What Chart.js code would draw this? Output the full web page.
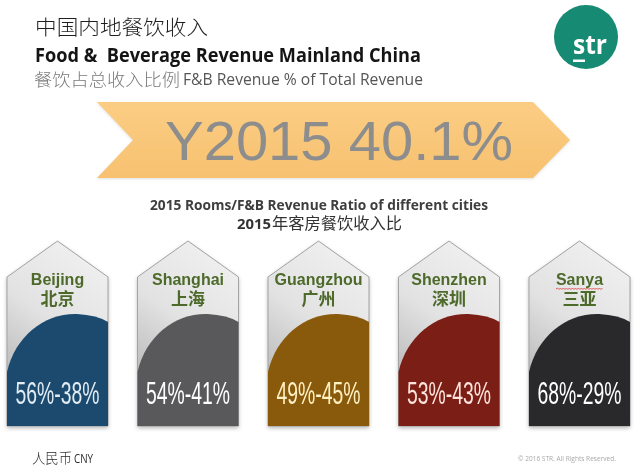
<!DOCTYPE html>
<html><head><meta charset="utf-8">
<script src="https://cdn.jsdelivr.net/npm/chart.js@4"></script>
<style>html,body{margin:0;padding:0;background:#fff;overflow:hidden}</style>
</head>
<body>
<canvas id="c" width="640" height="467" style="width:640px;height:467px;display:block"></canvas>
<script>
// ---- data ----
const cities = ['Beijing', 'Shanghai', 'Guangzhou', 'Shenzhen', 'Sanya'];
const citiesZh = ['北京', '上海', '广州', '深圳', '三亚'];
const roomsShare = [56, 54, 49, 53, 68];
const fbShare = [38, 41, 45, 43, 29];
const headlineYear = 2015;
const headlineShare = 40.1;

// ---- styles ----
const cardColors = ['#1b4a6e', '#59595b', '#8a5a0c', '#7b1f16', '#29292c'];
const pctColors = ['#e2ecf4', '#ffffff', '#fff1c4', '#fde4dc', '#ffffff'];

function fitText(ctx, text, x, y, font, w, align) {
  ctx.font = font;
  const m = ctx.measureText(text).width;
  const s = w / m;
  ctx.save();
  ctx.translate(x, y);
  ctx.scale(s, 1);
  ctx.textAlign = align || 'left';
  ctx.fillText(text, 0, 0);
  ctx.restore();
}

const infographic = {
  id: 'infographic',
  beforeDraw(chart) {
    const ctx = chart.ctx;
    ctx.save();
    ctx.fillStyle = '#ffffff';
    ctx.fillRect(0, 0, chart.width, chart.height);
    ctx.textBaseline = 'alphabetic';

    // titles
    ctx.fillStyle = '#1e1e1e';
    fitText(ctx, '中国内地餐饮收入', 35, 35, '300 20px "Noto Sans CJK SC"', 173);
    ctx.fillStyle = '#141414';
    fitText(ctx, 'Food &  Beverage Revenue Mainland China', 35, 62, 'bold 20px "Open Sans"', 386);
    ctx.fillStyle = '#7a7a7a';
    fitText(ctx, '餐饮占总收入比例', 34, 86, '300 17px "Noto Sans CJK SC"', 146);
    ctx.fillStyle = '#555555';
    fitText(ctx, 'F&B Revenue % of Total Revenue', 183, 85, '16px "Open Sans"', 240);

    // logo
    ctx.fillStyle = '#168a72';
    ctx.beginPath(); ctx.arc(586, 37, 32, 0, Math.PI * 2); ctx.fill();
    ctx.fillStyle = '#ffffff';
    fitText(ctx, 'str', 573, 54, 'bold 26px "Open Sans"', 34);
    ctx.fillRect(573, 59.5, 12, 2.5);

    // banner arrow
    ctx.save();
    ctx.shadowColor = 'rgba(0,0,0,0.12)'; ctx.shadowBlur = 3; ctx.shadowOffsetY = 1;
    const bg = ctx.createLinearGradient(0, 102, 0, 178);
    bg.addColorStop(0, '#fbcd84'); bg.addColorStop(1, '#f7c170');
    ctx.fillStyle = bg;
    ctx.beginPath();
    ctx.moveTo(97, 102); ctx.lineTo(533, 102); ctx.lineTo(570, 140);
    ctx.lineTo(533, 178); ctx.lineTo(97, 178); ctx.lineTo(133, 140); ctx.closePath();
    ctx.fill();
    ctx.restore();
    ctx.fillStyle = '#8d8d8d';
    fitText(ctx, 'Y' + headlineYear + ' ' + headlineShare.toFixed(1) + '%', 165, 160, '56px "Liberation Sans"', 348);

    // subtitle
    ctx.fillStyle = '#3e3e3e';
    fitText(ctx, headlineYear + ' Rooms/F&B Revenue Ratio of different cities', 319, 210, 'bold 15px "Open Sans"', 338, 'center');
    ctx.fillStyle = '#333333';
    fitText(ctx, String(headlineYear), 237, 229, 'bold 15px "Open Sans"', 34);
    fitText(ctx, '年客房餐饮收入比', 272, 229, '16px "Noto Sans CJK SC"', 130);

    // footer
    ctx.fillStyle = '#2a2a2a';
    fitText(ctx, '人民币', 32, 463, '300 14px "Noto Sans CJK SC"', 40);
    fitText(ctx, 'CNY', 74, 463, '13px "Open Sans"', 19);
    ctx.fillStyle = '#a8a8a8';
    fitText(ctx, '© 2016 STR. All Rights Reserved.', 518, 461, '8px "Open Sans"', 98);
    ctx.restore();
  },
  afterDatasetsDraw(chart) {
    const ctx = chart.ctx;
    const meta = chart.getDatasetMeta(0);
    ctx.save();
    const pctFont = '31px "Liberation Sans"';
    ctx.font = pctFont;
    const pctScale = 84 / ctx.measureText(roomsShare[0] + '%-' + fbShare[0] + '%').width;
    meta.data.forEach((bar, i) => {
      const cx = bar.x;
      const L = cx - 50.5, R = cx + 50.5, T = 241, S = 277, B = 426;
      const shape = () => {
        ctx.beginPath();
        ctx.moveTo(cx, T); ctx.lineTo(R, S); ctx.lineTo(R, B);
        ctx.lineTo(L, B); ctx.lineTo(L, S); ctx.closePath();
      };
      ctx.save();
      ctx.shadowColor = 'rgba(0,0,0,0.3)'; ctx.shadowBlur = 4; ctx.shadowOffsetY = 2;
      const g = ctx.createLinearGradient(R, T, L, B - 40);
      g.addColorStop(0, '#f3f3f3'); g.addColorStop(0.55, '#e2e2e2'); g.addColorStop(1, '#b5b5b5');
      ctx.fillStyle = g;
      shape(); ctx.fill();
      ctx.restore();
      ctx.strokeStyle = '#a3a3a3'; ctx.lineWidth = 1;
      shape(); ctx.stroke();

      // coloured region
      ctx.fillStyle = cardColors[i];
      ctx.beginPath();
      ctx.moveTo(L, B); ctx.lineTo(L, 372);
      ctx.bezierCurveTo(L + 8, 336, L + 38, 313, L + 70, 314);
      ctx.quadraticCurveTo(L + 90, 315, R, 322);
      ctx.lineTo(R, B); ctx.closePath();
      ctx.fill();

      // city names
      ctx.fillStyle = '#4d6a2b';
      ctx.textAlign = 'center';
      ctx.font = 'bold 16px "Liberation Sans"';
      ctx.fillText(cities[i], cx, 285);
      ctx.font = 'bold 17px "Noto Sans CJK SC"';
      ctx.fillText(citiesZh[i], cx, 305);
      if (cities[i] === 'Sanya') {
        ctx.font = 'bold 16px "Liberation Sans"';
        const tw = ctx.measureText(cities[i]).width;
        ctx.strokeStyle = '#d33'; ctx.lineWidth = 0.8;
        ctx.beginPath();
        let x0 = cx - tw / 2, up = true;
        ctx.moveTo(x0, 289);
        for (let x = x0 + 1.5; x <= cx + tw / 2; x += 1.5) { ctx.lineTo(x, up ? 288 : 289.5); up = !up; }
        ctx.stroke();
      }

      // percentages
      ctx.fillStyle = pctColors[i];
      ctx.save();
      ctx.translate(cx, 404);
      ctx.scale(pctScale, 1);
      ctx.font = pctFont;
      ctx.textAlign = 'center';
      ctx.fillText(roomsShare[i] + '%-' + fbShare[i] + '%', 0, 0);
      ctx.restore();
    });
    ctx.restore();
  }
};

new Chart(document.getElementById('c'), {
  type: 'bar',
  data: {
    labels: cities,
    datasets: [{
      label: 'Rooms share',
      data: roomsShare,
      backgroundColor: 'rgba(0,0,0,0)',
      borderWidth: 0
    }]
  },
  options: {
    responsive: false,
    animation: false,
    events: [],
    layout: { padding: { left: 57.5, right: 60.5, top: 240, bottom: 40 } },
    plugins: { legend: { display: false }, tooltip: { enabled: false }, title: { display: false } },
    scales: {
      x: { display: false, offset: false },
      y: { display: false, min: 0, max: 100 }
    }
  },
  plugins: [infographic]
});
</script>
</body></html>
